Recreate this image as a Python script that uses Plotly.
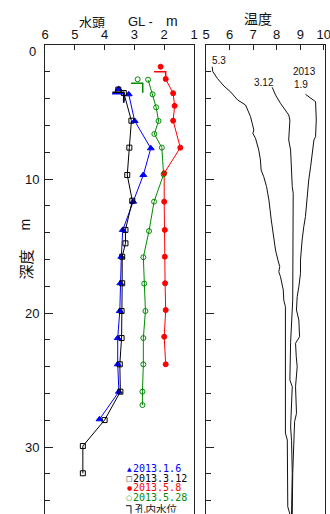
import plotly.graph_objects as go

# ---------------- data ----------------
# Left panel: hydraulic head (GL- m) vs depth (m)
BLUE_NAME = "2013.1.6"
BLUE_D = [3.68, 5.67, 7.71, 9.70, 11.69, 13.8, 15.8, 17.78, 19.85, 21.87, 23.83, 25.87, 27.93]
BLUE_H = [3.19, 2.99, 2.45, 2.70, 3.04, 3.39, 3.44, 3.47, 3.49, 3.56, 3.56, 3.52, 4.17]
BLUE_TOP = (3.53, 3.28)      # (head, depth) isolated point
BLUE_WL = (3.36, 3.63)       # (head, depth) water level in hole

BLACK_NAME = "2013.3.12"
BLACK_D = [3.58, 5.65, 7.66, 9.70, 11.62, 13.8, 14.8, 15.8, 17.78, 19.85, 21.87, 23.83, 25.87, 27.99, 29.93, 31.96]
BLACK_H = [3.355, 3.10, 3.17, 3.24, 3.07, 3.30, 3.30, 3.41, 3.41, 3.43, 3.43, 3.49, 3.47, 4.00, 4.73, 4.73]
BLACK_TOP = (3.54, 3.33)
BLACK_WL = (3.35, 3.52)

RED_NAME = "2013.5.8"
RED_D = [2.54, 3.60, 4.54, 5.65, 7.66, 9.57, 11.69, 13.8, 15.8, 17.78, 19.78, 21.77, 23.83]
RED_H = [1.95, 1.70, 1.65, 1.70, 1.46, 2.00, 2.00, 1.98, 1.98, 1.97, 1.95, 2.00, 1.95]
RED_TOP = (2.12, 1.62)
RED_WL = (1.95, 1.99)

GREEN_NAME = "2013.5.28"
GREEN_D = [2.59, 3.68, 4.65, 5.67, 6.64, 7.66, 9.65, 11.69, 13.88, 15.84, 17.81, 19.85, 21.87, 23.83, 25.87, 26.87]
GREEN_H = [2.54, 2.39, 2.27, 2.19, 2.33, 2.08, 2.02, 2.34, 2.51, 2.70, 2.67, 2.63, 2.70, 2.70, 2.73, 2.73]
GREEN_TOP = (2.89, 2.56)
GREEN_WL = (2.72, 2.86)

WL_LABEL = "孔内水位"

# Right panel: temperature profiles
T53_LABEL = "5.3"
T53_D = [1.62, 1.99, 2.49, 3.06, 3.49, 4.10, 4.48, 5.35, 5.84, 6.34, 6.59, 6.96, 7.84, 8.58, 9.33, 9.83,
         10.57, 11.57, 13.06, 14.55, 15.30, 16.04, 16.54, 16.92, 17.29, 18.28, 19.03, 19.53, 28.96,
         29.48, 31.47, 34.46, 35.0]
T53_T = [5.26, 5.29, 5.48, 5.76, 6.04, 6.34, 6.68, 6.89, 6.96, 7.03, 6.99, 7.10, 7.24, 7.31, 7.34, 7.45,
         7.57, 7.67, 7.77, 7.88, 7.95, 8.05, 8.13, 8.09, 8.16, 8.28, 8.30, 8.37, 8.37,
         8.45, 8.47, 8.47, 8.56]

T312_LABEL = "3.12"
T312_D = [3.16, 3.73, 4.35, 4.85, 5.22, 5.60, 7.09, 7.84, 9.08, 10.57, 11.07, 19.03, 22.2, 25.0, 25.5,
          27.0, 28.5, 29.5, 31.9, 35.0]
T312_T = [7.81, 7.95, 8.16, 8.37, 8.51, 8.56, 8.51, 8.59, 8.62, 8.66, 8.70, 8.68, 8.59, 8.56, 8.66,
          8.62, 8.59, 8.63, 8.66, 8.63]

T19_LABEL = ["2013", "1.9"]
T19_D = [3.68, 4.23, 5.60, 6.84, 7.09, 8.34, 9.08, 10.07, 10.82, 12.07, 12.81, 13.56, 14.55, 16.04, 17.04,
         18.04, 18.78, 19.78, 20.52, 21.77, 22.26, 23.26, 24.01, 25.50, 27.49, 28.11, 29.48, 31.96, 35.0]
T19_T = [9.22, 9.65, 9.68, 9.65, 9.58, 9.51, 9.44, 9.36, 9.32, 9.27, 9.22, 9.15, 9.08, 9.01, 9.01,
         8.94, 8.87, 8.84, 8.94, 8.97, 8.80, 8.83, 8.87, 8.80, 8.84, 8.76, 8.73, 8.68, 8.66]

HEAD_TICKS = [6, 5, 4, 3, 2, 1]
TEMP_TICKS = [5, 6, 7, 8, 9, 10]
DEPTH_TICKS = [0, 10, 20, 30]

# ---------------- style ----------------
W, H = 330, 514
BLUE, BLACK, RED, GREEN = "#0000ff", "#000000", "#ff0000", "#008a00"
LAT = "Liberation Sans"
JP = "Noto Sans CJK JP"
WL_W, WL_H = 0.39, 0.7   # bracket size in data units


def px(x):
    return x / W


def py(y):
    return 1 - y / H


fig = go.Figure()

series = [
    (BLUE_NAME, BLUE_H, BLUE_D, BLUE_TOP, BLUE_WL, BLUE, "triangle-up", 6),
    (BLACK_NAME, BLACK_H, BLACK_D, BLACK_TOP, BLACK_WL, BLACK, "square-open", 5),
    (RED_NAME, RED_H, RED_D, RED_TOP, RED_WL, RED, "circle", 5),
    (GREEN_NAME, GREEN_H, GREEN_D, GREEN_TOP, GREEN_WL, GREEN, "circle-open", 5),
]

for name, hv, dv, top, wl, col, sym, size in series:
    fig.add_trace(go.Scatter(x=hv, y=dv, mode="lines+markers", name=name,
                             line=dict(color=col, width=1),
                             marker=dict(symbol=sym, size=size, color=col, line=dict(color=col, width=1)),
                             xaxis="x", yaxis="y", showlegend=False))
    fig.add_trace(go.Scatter(x=[top[0]], y=[top[1]], mode="markers",
                             marker=dict(symbol=sym, size=size, color=col, line=dict(color=col, width=1)),
                             xaxis="x", yaxis="y", showlegend=False))
    fig.add_trace(go.Scatter(x=[wl[0] + WL_W, wl[0], wl[0]], y=[wl[1], wl[1], wl[1] + WL_H],
                             mode="lines", line=dict(color=col, width=1.5),
                             xaxis="x", yaxis="y", showlegend=False))

for tv, dv in [(T53_T, T53_D), (T312_T, T312_D), (T19_T, T19_D)]:
    fig.add_trace(go.Scatter(x=tv, y=dv, mode="lines", line=dict(color="#111111", width=1),
                             xaxis="x2", yaxis="y2", showlegend=False))

axis_common = dict(showgrid=False, zeroline=False, showline=True, linecolor="#222222", linewidth=1,
                   ticks="inside", tickcolor="#222222", automargin=False, ticklabeloverflow="allow")

fig.update_layout(
    width=W, height=H,
    margin=dict(l=0, r=0, t=0, b=0, pad=0, autoexpand=False),
    showlegend=False,
    paper_bgcolor="white", plot_bgcolor="white",
    font=dict(family=LAT, color="#111111"),
    xaxis=dict(axis_common, domain=[px(45), px(194)], range=[6, 1], side="top", anchor="y",
               tickvals=HEAD_TICKS, ticklen=5, tickfont=dict(size=13, family=LAT)),
    yaxis=dict(axis_common, domain=[0, py(45)], range=[35, 0], anchor="x", mirror=True,
               tickvals=DEPTH_TICKS, ticktext=[""] + [str(v) for v in DEPTH_TICKS[1:]],
               ticklen=8, tickfont=dict(size=13, family=LAT), ticklabelstandoff=2,
               minor=dict(dtick=2, tick0=0, ticks="inside", ticklen=5, tickcolor="#222222")),
    xaxis2=dict(axis_common, domain=[px(206), px(325)], range=[5, 10.05], side="top", anchor="y2",
                tickvals=TEMP_TICKS, ticklen=5, tickfont=dict(size=13, family=LAT)),
    yaxis2=dict(axis_common, domain=[0, py(45)], range=[35, 0], anchor="x2", mirror=True,
                tickvals=DEPTH_TICKS, showticklabels=False, ticklen=8,
                minor=dict(dtick=2, tick0=0, ticks="inside", ticklen=5, tickcolor="#222222")),
)

ann = []


def add_text(text, x, y, size, family=LAT, color="#111111", xanchor="center", angle=0, h=None):
    a = dict(text=text, x=px(x), y=py(y), xref="paper", yref="paper", showarrow=False,
             xanchor=xanchor, yanchor="middle", textangle=angle, borderpad=0,
             font=dict(size=size, family=family, color=color))
    if h is not None:
        a["height"] = h
    ann.append(a)


# titles
add_text("水頭", 92.5, 21.5, 13, JP, h=13)
add_text("GL -", 140, 21.5, 13, LAT, h=13)
add_text("m", 171.5, 21, 14, LAT, h=13)
add_text("温度", 257.5, 18, 14, JP)
add_text("深度", 24.5, 265, 15, JP, angle=-90)
add_text("m", 24.5, 225, 14, LAT, angle=-90)
add_text(str(DEPTH_TICKS[0]), 32, 51.5, 13, LAT)

# temperature curve labels
add_text(T53_LABEL, 210.7, 60.5, 10, LAT, xanchor="left")
add_text(T312_LABEL, 253, 82, 10, LAT, xanchor="left")
add_text(T19_LABEL[0], 291.7, 72, 10, LAT, xanchor="left", h=11)
add_text(T19_LABEL[1], 292.7, 84.5, 10, LAT, xanchor="left", h=11)

# custom legend
leg = [("▲", BLUE_NAME, BLUE, 468.3, 6), ("□", BLACK_NAME, BLACK, 478.3, 7),
       ("●", RED_NAME, RED, 487.3, 6), ("○", GREEN_NAME, GREEN, 497.3, 7)]
for g, name, col, y, gs in leg:
    add_text(g, 129, y, gs, "DejaVu Sans", col, h=9)
    add_text(name, 132.3, y, 10, "DejaVu Sans Mono", col, xanchor="left", h=9)
add_text(WL_LABEL, 134.3, 508, 10.5, JP, xanchor="left", h=10)

fig.update_layout(annotations=ann)
fig.add_shape(type="path", xref="paper", yref="paper",
              path=f"M {px(126)} {py(505.7)} L {px(131)} {py(505.7)} L {px(131)} {py(513.5)}",
              line=dict(color="#111111", width=1))

fig.write_html("out.html", config={"displayModeBar": False},
               post_script="document.body.style.margin='0';")
